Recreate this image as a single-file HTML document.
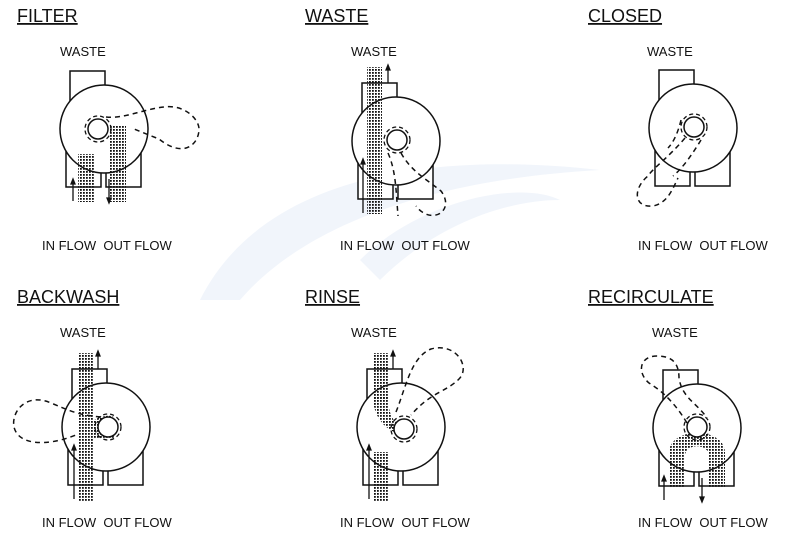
<!DOCTYPE html>
<html><head><meta charset="utf-8"><style>
html,body{margin:0;padding:0;background:#fff;}
svg{display:block;font-family:"Liberation Sans",sans-serif;}
.t{font-size:18px;text-decoration:underline;fill:#111;}
.l{font-size:13px;fill:#111;}
</style></head><body>
<svg width="800" height="533" viewBox="0 0 800 533" xmlns="http://www.w3.org/2000/svg">
<defs>
<pattern id="d" width="3" height="3" patternUnits="userSpaceOnUse"><rect width="1.8" height="1.8" fill="#111"/></pattern>
<g id="v">
<rect x="-34" y="-58" width="35" height="40" fill="#fff" stroke="#111" stroke-width="1.5"/>
<rect x="-38" y="18" width="35" height="40" fill="#fff" stroke="#111" stroke-width="1.5"/>
<rect x="2" y="18" width="35" height="40" fill="#fff" stroke="#111" stroke-width="1.5"/>
<circle r="44" fill="#fff" stroke="#111" stroke-width="1.5"/>
</g>
<g id="hub"><circle r="10" fill="#fff" stroke="#111" stroke-width="1.5"/><circle r="13" fill="none" stroke="#111" stroke-width="1.3" stroke-dasharray="4 3"/></g>
</defs>
<path d="M200 300 C260 180 420 150 600 170 C420 180 300 230 240 300 Z" fill="#f1f5fb"/>
<path d="M360 260 C420 200 520 180 560 200 C500 200 430 230 380 280 Z" fill="#f1f5fb"/>

<!-- FILTER -->
<text class="t" x="17" y="22">FILTER</text><text class="l" x="60" y="56">WASTE</text>
<g transform="translate(104,129)"><use href="#v"/>
<rect x="-26" y="25" width="16" height="48" fill="url(#d)"/><rect x="6" y="-3" width="16" height="76" fill="url(#d)"/>
<use href="#hub" x="-6"/>
<path d="M2 -12 C20 -10 40 -20 60 -22 C80 -25 95 -10 95 0 C95 15 80 30 55 10 L30 0" fill="none" stroke="#111" stroke-width="1.5" stroke-dasharray="5 4"/>
<path d="M-31 72 V52 M-31 50 l-2 5 h4z M5 50 V72 M5 74 l-2 -5 h4z" stroke="#111" stroke-width="1.3" fill="#111"/></g>
<text class="l" x="42" y="250">IN FLOW&#160; OUT FLOW</text>

<!-- WASTE -->
<text class="t" x="305" y="22">WASTE</text><text class="l" x="351" y="56">WASTE</text>
<g transform="translate(396,141)"><use href="#v"/>
<rect x="-29" y="-74" width="15" height="147" fill="url(#d)"/>
<use href="#hub" x="1" y="-1"/>
<path d="M5 12 C15 30 30 38 45 50 C60 70 35 85 20 65" fill="none" stroke="#111" stroke-width="1.5" stroke-dasharray="5 4"/>
<path d="M-8 12 C0 30 0 50 2 75" fill="none" stroke="#111" stroke-width="1.5" stroke-dasharray="5 4"/>
<path d="M-33 72 V20 M-33 18 l-2 5 h4z M-8 -58 V-74 M-8 -76 l-2 5 h4z" stroke="#111" stroke-width="1.3" fill="#111"/></g>
<text class="l" x="340" y="250">IN FLOW&#160; OUT FLOW</text>

<!-- CLOSED -->
<text class="t" x="588" y="22">CLOSED</text><text class="l" x="647" y="56">WASTE</text>
<g transform="translate(693,128)"><use href="#v"/>
<use href="#hub" x="1" y="-1"/>
<path d="M-8 10 C-25 30 -40 40 -45 48 C-60 60 -60 80 -40 78 C-25 75 -20 60 -15 50" fill="none" stroke="#111" stroke-width="1.5" stroke-dasharray="5 4"/>
<path d="M-12 -8 C-15 5 -20 15 -25 20 M8 12 C0 25 -10 40 -20 48" fill="none" stroke="#111" stroke-width="1.5" stroke-dasharray="5 4"/></g>
<text class="l" x="638" y="250">IN FLOW&#160; OUT FLOW</text>

<!-- BACKWASH -->
<text class="t" x="17" y="303">BACKWASH</text><text class="l" x="60" y="337">WASTE</text>
<g transform="translate(106,427)"><use href="#v"/>
<rect x="-27" y="-74" width="14" height="148" fill="url(#d)"/><path d="M-13 -6 C-5 -12 5 -12 8 -10 V12 H-13z" fill="url(#d)"/>
<use href="#hub" x="2"/>
<path d="M-5 -10 C-30 -12 -40 -18 -55 -24 C-80 -35 -95 -15 -92 0 C-88 18 -60 20 -30 8" fill="none" stroke="#111" stroke-width="1.5" stroke-dasharray="5 4"/>
<path d="M-32 72 V20 M-32 18 l-2 5 h4z M-8 -58 V-74 M-8 -76 l-2 5 h4z" stroke="#111" stroke-width="1.3" fill="#111"/></g>
<text class="l" x="42" y="527">IN FLOW&#160; OUT FLOW</text>

<!-- RINSE -->
<text class="t" x="305" y="303">RINSE</text><text class="l" x="351" y="337">WASTE</text>
<g transform="translate(401,427)"><use href="#v"/>
<rect x="-28" y="-74" width="15" height="46" fill="url(#d)"/><path d="M-28 -30 H-13 C-13 -10 -5 -2 3 0 V8 C-15 5 -28 -10 -28 -30z" fill="url(#d)"/>
<rect x="-28" y="25" width="15" height="50" fill="url(#d)"/>
<use href="#hub" x="3" y="2"/>
<path d="M-5 -15 C5 -40 10 -70 30 -78 C55 -85 70 -60 58 -48 C45 -35 30 -35 10 -12" fill="none" stroke="#111" stroke-width="1.5" stroke-dasharray="5 4"/>
<path d="M-32 72 V20 M-32 18 l-2 5 h4z M-8 -58 V-74 M-8 -76 l-2 5 h4z" stroke="#111" stroke-width="1.3" fill="#111"/></g>
<text class="l" x="340" y="527">IN FLOW&#160; OUT FLOW</text>

<!-- RECIRCULATE -->
<text class="t" x="588" y="303">RECIRCULATE</text><text class="l" x="652" y="337">WASTE</text>
<g transform="translate(697,428)"><use href="#v"/>
<path d="M-28 60 V25 C-28 -2 28 -2 28 25 V60 H12 V28 C12 15 -12 15 -12 28 V60Z" fill="url(#d)"/>
<use href="#hub" x="0" y="-1"/>
<path d="M-10 -5 C-25 -30 -40 -40 -48 -45 C-60 -55 -58 -72 -40 -72 C-25 -72 -18 -65 -18 -50 C-15 -30 0 -25 10 -10" fill="none" stroke="#111" stroke-width="1.5" stroke-dasharray="5 4"/>
<path d="M-33 72 V50 M-33 48 l-2 5 h4z M5 50 V72 M5 74 l-2 -5 h4z" stroke="#111" stroke-width="1.3" fill="#111"/></g>
<text class="l" x="638" y="527">IN FLOW&#160; OUT FLOW</text>
</svg>
</body></html>
